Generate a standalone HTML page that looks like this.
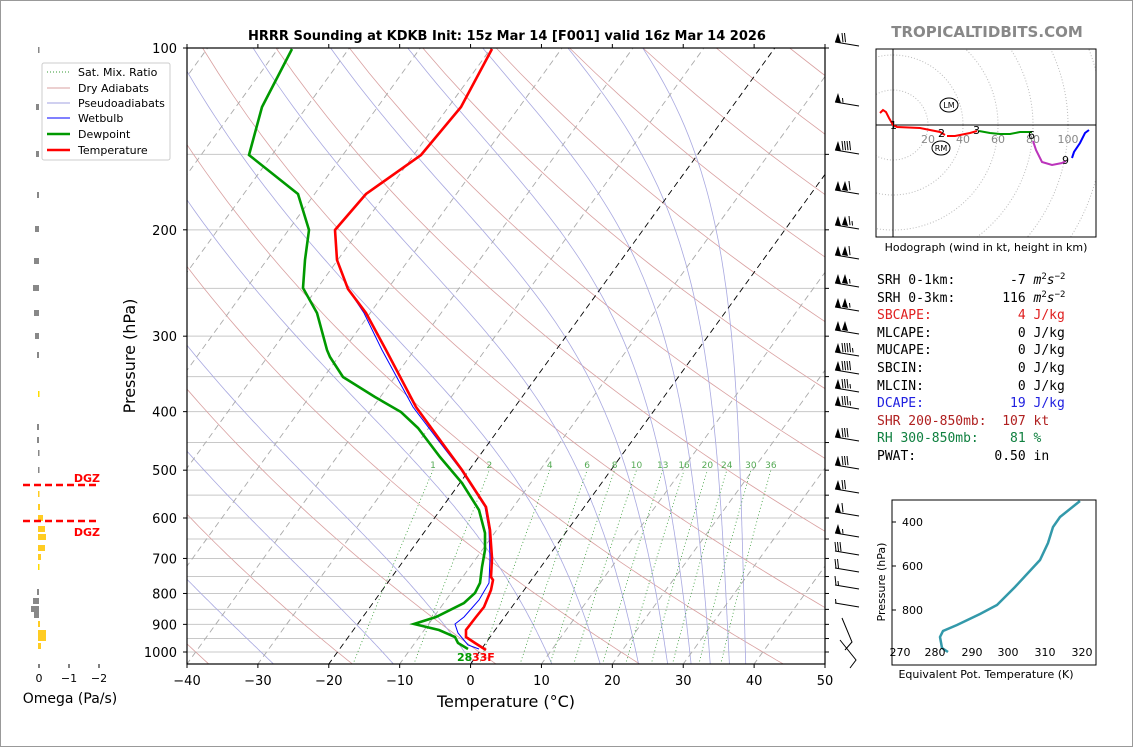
<!DOCTYPE html>
<html><head><meta charset="utf-8">
<style>
html,body{margin:0;padding:0;background:#fff;}
body{width:1134px;height:748px;overflow:hidden;position:relative;font-family:"DejaVu Sans","Liberation Sans",sans-serif;}
svg{position:absolute;left:0;top:0;}
.mono{font-family:"DejaVu Sans Mono","Liberation Mono",monospace;font-size:13px;}
.mono sup{font-size:9px;line-height:0;vertical-align:5px;}
</style></head>
<body>
<svg id="s" width="1134" height="748" viewBox="0 0 1134 748" xmlns="http://www.w3.org/2000/svg">
<rect x="0.5" y="0.5" width="1132" height="746" fill="#fff" stroke="#999" stroke-width="1"/>
<defs><clipPath id="mc"><rect x="187" y="48" width="638" height="616"/></clipPath>
<clipPath id="hc"><rect x="876" y="49" width="220" height="188"/></clipPath></defs>
<g id="bg" clip-path="url(#mc)"></g>
<g id="fg" clip-path="url(#mc)">
<polyline fill="none" stroke="#0000ff" stroke-width="1" points="492,49 461,107 421,155 366,194 335,230 337,260 348,289 364,313 382,350 413,407 438,440 461,470 485,507 489,530 490,558 489,583 479,600 464,617 455,624 458,633 468,645 479,649"/>
<polyline fill="none" stroke="#009900" stroke-width="2.6" points="292,49 262,107 249,155 298,194 309,230 305,260 303,288 317,313 327,350 330,357 343,377 375,397 401,412 418,428 440,457 462,483 479,510 485,533 485,550 482,567 480,583 475,593 464,603 436,617 414,624 439,630 455,637 458,643 468,649"/>
<polyline fill="none" stroke="#ff0000" stroke-width="2.6" points="492,49 461,107 421,155 366,194 335,230 337,260 348,289 366,313 386,350 416,407 440,440 462,470 486,507 490,530 492,558 491,577 493,580 491,590 484,607 476,617 466,630 466,637 475,643 486,650"/>
</g>
<rect x="187" y="48" width="638" height="616" fill="none" stroke="#000" stroke-width="1.2"/>
<g id="ax" font-size="13" fill="#000"></g>
<text x="507" y="40" text-anchor="middle" font-size="13" font-weight="bold">HRRR Sounding at KDKB Init: 15z Mar 14 [F001] valid 16z Mar 14 2026</text>
<text x="506" y="707" text-anchor="middle" font-size="16">Temperature (°C)</text>
<text transform="translate(135,356) rotate(-90)" text-anchor="middle" font-size="16">Pressure (hPa)</text>
<text x="457" y="661" font-size="11" font-weight="bold" fill="#009900">28</text>
<text x="472" y="661" font-size="11" font-weight="bold" fill="#ff0000">33F</text>
<g id="barbs" stroke="#000" stroke-width="1" fill="#000"></g>
<g font-size="11">
<rect x="42" y="63" width="128" height="97" fill="#fff" stroke="#ccc" rx="2"/>
<line x1="47" y1="72" x2="70" y2="72" stroke="#339933" stroke-dasharray="1,2"/><text x="78" y="76">Sat. Mix. Ratio</text>
<line x1="47" y1="88" x2="70" y2="88" stroke="#d9a0a0"/><text x="78" y="92">Dry Adiabats</text>
<line x1="47" y1="103" x2="70" y2="103" stroke="#a0a0e0"/><text x="78" y="107">Pseudoadiabats</text>
<line x1="47" y1="118" x2="70" y2="118" stroke="#0000ff"/><text x="78" y="122">Wetbulb</text>
<line x1="47" y1="134" x2="70" y2="134" stroke="#009900" stroke-width="2.5"/><text x="78" y="138">Dewpoint</text>
<line x1="47" y1="150" x2="70" y2="150" stroke="#ff0000" stroke-width="2.5"/><text x="78" y="154">Temperature</text>
</g>
<g id="om"></g>
<line x1="23" y1="485" x2="98" y2="485" stroke="#ff0000" stroke-width="2.5" stroke-dasharray="7,4"/>
<line x1="23" y1="521" x2="98" y2="521" stroke="#ff0000" stroke-width="2.5" stroke-dasharray="7,4"/>
<text x="100" y="482" text-anchor="end" font-size="11" font-weight="bold" fill="#ff0000">DGZ</text>
<text x="100" y="536" text-anchor="end" font-size="11" font-weight="bold" fill="#ff0000">DGZ</text>
<g font-size="11"><line x1="39" y1="664" x2="39" y2="668" stroke="#000"/><line x1="69" y1="664" x2="69" y2="668" stroke="#000"/><line x1="99" y1="664" x2="99" y2="668" stroke="#000"/>
<text x="39" y="682" text-anchor="middle">0</text><text x="69" y="682" text-anchor="middle">−1</text><text x="99" y="682" text-anchor="middle">−2</text></g>
<text x="70" y="703" text-anchor="middle" font-size="14">Omega (Pa/s)</text>
<text x="987" y="37" text-anchor="middle" font-size="15" font-weight="bold" fill="#888">TROPICALTIDBITS.COM</text>
<g clip-path="url(#hc)" fill="none" stroke="#bbb" stroke-dasharray="1,2">
<circle cx="893" cy="125" r="35"/><circle cx="893" cy="125" r="70"/><circle cx="893" cy="125" r="105"/><circle cx="893" cy="125" r="140"/><circle cx="893" cy="125" r="175"/><circle cx="893" cy="125" r="210"/>
</g>
<line x1="876" y1="125" x2="1096" y2="125" stroke="#000"/><line x1="893" y1="49" x2="893" y2="237" stroke="#000"/>
<g font-size="11" fill="#888"><text x="928" y="143" text-anchor="middle">20</text><text x="963" y="143" text-anchor="middle">40</text><text x="998" y="143" text-anchor="middle">60</text><text x="1033" y="143" text-anchor="middle">80</text><text x="1068" y="143" text-anchor="middle">100</text></g>
<g fill="none" stroke-width="2">
<polyline stroke="#ff0000" points="880,113 883,110 886,112 889,118 893,125 897,127 920,128 940,132 945,135"/>
<polyline stroke="#ff0000" points="947,136 955,136 970,133 977,131"/>
<polyline stroke="#009900" points="979,131 990,133 1000,134 1010,134 1020,132 1032,132"/>
<polyline stroke="#bb33bb" points="1033,141 1036,150 1042,162 1052,165 1062,163 1066,161"/>
<polyline stroke="#0000ff" points="1072,158 1074,152 1080,143 1085,133 1089,130"/>
</g>
<g font-size="11" fill="#000"><text x="890" y="129">1</text><text x="938" y="137">2</text><text x="973" y="134">3</text><text x="1028" y="139">6</text><text x="1062" y="164">9</text></g>
<ellipse cx="949" cy="105" rx="9" ry="7" fill="none" stroke="#000"/><text x="949" y="108" font-size="8" text-anchor="middle">LM</text>
<ellipse cx="941" cy="148" rx="9" ry="7" fill="none" stroke="#000"/><text x="941" y="151" font-size="8" text-anchor="middle">RM</text>
<rect x="876" y="49" width="220" height="188" fill="none" stroke="#000"/>
<text x="986" y="251" text-anchor="middle" font-size="11">Hodograph (wind in kt, height in km)</text>
<rect x="892" y="500" width="204" height="165" fill="none" stroke="#000"/>
<polyline fill="none" stroke="#3399aa" stroke-width="2.5" points="948,652 942,648 940,637 943,631 957,625 980,614 997,605 1015,587 1040,560 1048,543 1053,527 1060,517 1080,501"/>
<g font-size="11"><line x1="892" y1="522" x2="896" y2="522" stroke="#000"/><line x1="892" y1="566" x2="896" y2="566" stroke="#000"/><line x1="892" y1="610" x2="896" y2="610" stroke="#000"/>
<text x="902" y="526">400</text><text x="902" y="570">600</text><text x="902" y="614">800</text>
<text x="900" y="656" text-anchor="middle">270</text><text x="935" y="656" text-anchor="middle">280</text><text x="972" y="656" text-anchor="middle">290</text><text x="1008" y="656" text-anchor="middle">300</text><text x="1045" y="656" text-anchor="middle">310</text><text x="1082" y="656" text-anchor="middle">320</text>
<text x="986" y="678" text-anchor="middle">Equivalent Pot. Temperature (K)</text>
<text transform="translate(885,582) rotate(-90)" text-anchor="middle">Pressure (hPa)</text></g>
</svg>
<div class="mono" style="position:absolute;left:877px;top:272px;line-height:17.6px;white-space:pre;">SRH 0-1km:       -7 <i>m</i><sup>2</sup><i>s</i><sup>−2</sup>
SRH 0-3km:      116 <i>m</i><sup>2</sup><i>s</i><sup>−2</sup>
<span style="color:#e02020">SBCAPE:           4 J/kg</span>
MLCAPE:           0 J/kg
MUCAPE:           0 J/kg
SBCIN:            0 J/kg
MLCIN:            0 J/kg
<span style="color:#2020e0">DCAPE:           19 J/kg</span>
<span style="color:#b02020">SHR 200-850mb:  107 kt</span>
<span style="color:#108040">RH 300-850mb:    81 %</span>
PWAT:          0.50 in</div>
<script>
(function(){
var NS="http://www.w3.org/2000/svg";
function Y(p){return 48+(Math.log10(p)-2)*604;}
function X(T,p){return 187+(T+40)*7.089+(664-Y(p))*0.724;}
function el(par,tag,a){var e=document.createElementNS(NS,tag);for(var k in a)e.setAttribute(k,a[k]);par.appendChild(e);return e;}
var bg=document.getElementById('bg'),ax=document.getElementById('ax');
var ps=[];for(var p=1050;p>=100;p-=10)ps.push(p);
for(var p=100;p<=1000;p+=50){var y=Y(p);el(bg,'line',{x1:187,x2:825,y1:y,y2:y,stroke:'#c8c8c8','stroke-width':1});
 el(ax,'line',{x1:825,x2:829,y1:y,y2:y,stroke:'#000'});
 if(p%100==0){el(ax,'line',{x1:183,x2:187,y1:y,y2:y,stroke:'#000'});var t=el(ax,'text',{x:177,y:y+5,'text-anchor':'end'});t.textContent=p;}}
for(var th=193.15;th<=553;th+=20){var pts=[];ps.forEach(function(p){var T=th*Math.pow(p/1000,0.286)-273.15;pts.push(X(T,p).toFixed(1)+','+Y(p).toFixed(1));});
 el(bg,'polyline',{points:pts.join(' '),fill:'none',stroke:'#d9a0a0','stroke-width':0.8});}
var starts=[-60,-45,-27.6,-10.7,0.5,11.6,18.4,23.8,27.9,31.2,33.9,36.6,38.9];
starts.forEach(function(T0){var T=T0+273.15,pts=[];for(var p=1050;p>=100;p-=5){pts.push(X(T-273.15,p).toFixed(1)+','+Y(p).toFixed(1));
 var es=6.112*Math.exp(17.67*(T-273.15)/(T-29.65));var rs=0.622*es/Math.max(p-es,1);
 var d=(287*T+2.5e6*rs)/(p*(1005+2.5e6*2.5e6*rs*0.622/(287*T*T)));T-=5*d;}
 el(bg,'polyline',{points:pts.join(' '),fill:'none',stroke:'#a8a8e0','stroke-width':0.8});});
for(var T=-150;T<=50;T+=10){var st=(T==-20||T==0)?'#000':'#aaa';
 el(bg,'line',{x1:X(T,1050),y1:Y(1050),x2:X(T,100),y2:Y(100),stroke:st,'stroke-width':0.9,'stroke-dasharray':'6,4'});}
[1,2,4,6,8,10,13,16,20,24,30,36].forEach(function(w){var pts=[];for(var p=1050;p>=500;p-=10){var e=w*p/(622+w);var l=Math.log(e/6.112);var Td=243.5*l/(17.67-l);pts.push(X(Td,p).toFixed(1)+','+Y(p).toFixed(1));}
 el(bg,'polyline',{points:pts.join(' '),fill:'none',stroke:'#339933','stroke-width':0.8,'stroke-dasharray':'1,2.5'});
 var e=w*500/(622+w),l=Math.log(e/6.112),Td=243.5*l/(17.67-l);var t=el(bg,'text',{x:X(Td,500),y:Y(500)-2,'text-anchor':'middle','font-size':9,fill:'#55aa55'});t.textContent=w;});
for(var T=-40;T<=50;T+=10){var x=187+(T+40)*7.089;el(ax,'line',{x1:x,x2:x,y1:664,y2:668,stroke:'#000'});el(ax,'line',{x1:x,x2:x,y1:48,y2:44,stroke:'#000'});
 var t=el(ax,'text',{x:x,y:685,'text-anchor':'middle'});t.textContent=(T<0?'−':'')+Math.abs(T);}
var B=[[42,1,2,0],[102,1,0,1],[150,1,4,0],[190,2,1,0],[225,2,1,1],[255,2,1,0],[283,2,0,1],[307,2,0,1],[330,2,0,0],[352,1,4,1],[370,1,4,0],[388,1,3,1],[405,1,3,1],[437,1,3,0],[465,1,3,0],[489,1,2,0],[512,1,1,0],[533,1,0,1],[551,0,3,0],[568,0,2,0],[585,0,1,1],[603,0,0,1]];
var g=document.getElementById('barbs');
B.forEach(function(b){var y=b[0],x=835;el(g,'line',{x1:x,y1:y,x2:859,y2:y+4});
 for(var i=0;i<b[1];i++){el(g,'polygon',{points:x+','+y+' '+(x+3)+','+(y-9)+' '+(x+6)+','+(y+1),stroke:'none'});x+=7;}
 for(var i=0;i<b[2];i++){el(g,'line',{x1:x+1,y1:y+0.2,x2:x,y2:y-9});x+=2.5;}
 if(b[3]){el(g,'line',{x1:x+1,y1:y+0.5,x2:x+0.5,y2:y-4});}});
el(g,'polyline',{points:'842,618 852,642 845,650',fill:'none'});
el(g,'polyline',{points:'840,640 856,660 850,668',fill:'none'});
var om=document.getElementById('om');
var O=[[50,1,'#888'],[107,3,'#888'],[154,3,'#888'],[195,2,'#888'],[229,4,'#888'],[261,5,'#888'],[288,6,'#888'],[313,5,'#888'],[336,4,'#888'],[355,2,'#888'],[394,-1,'#ffdd00'],[427,2,'#888'],[440,2,'#888'],[453,1,'#888'],[470,1,'#888'],[494,-1,'#ffcc22'],[507,-2,'#ffcc22'],[518,-5,'#ffcc22'],[529,-7,'#ffcc22'],[537,-8,'#ffcc22'],[548,-7,'#ffcc22'],[557,-3,'#ffcc22'],[567,-1,'#ffdd00'],[592,2,'#888'],[601,6,'#888'],[609,8,'#888'],[615,5,'#888'],[624,-2,'#ffcc22'],[633,-8,'#ffcc22'],[638,-8,'#ffcc22'],[646,-3,'#ffcc22']];
O.forEach(function(o){var w=Math.abs(o[1]);var x=o[1]>0?39-w:38;el(om,'rect',{x:x,y:o[0]-3,width:Math.max(w,1.5),height:6,fill:o[2]});});
})();
</script>
</body></html>
